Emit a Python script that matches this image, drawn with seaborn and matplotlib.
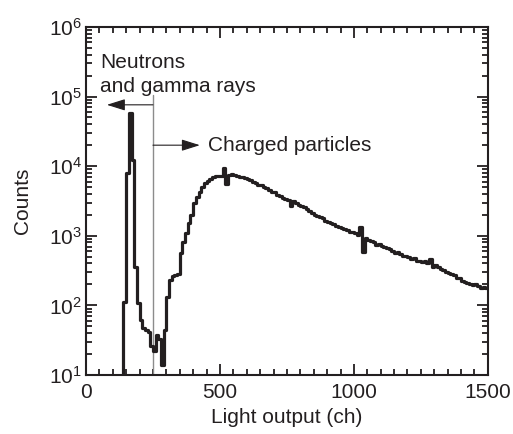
"""
Light-output spectrum: neutron/gamma peak vs charged-particle continuum.
Values read off the reference figure (10-ch bins, log counts).
"""

import numpy as np
import pandas as pd
import matplotlib
matplotlib.use("Agg")
import matplotlib.pyplot as plt
import seaborn as sns
from matplotlib.ticker import LogLocator, MultipleLocator, NullFormatter

sns.set_theme(style="ticks")
plt.rcParams["font.family"] = ["Liberation Sans", "DejaVu Sans"]
plt.rcParams["mathtext.default"] = "regular"

# bin edges (ch): one lead-in bin below the threshold, then 10-ch bins
EDGES = [100] + list(range(140, 1510, 10))
COUNTS = [
    2,                                                          # 100-140 (off scale)
    112, 7900, 57500, 12300, 350, 108, 62, 47, 45, 41,          # 140-240
    26, 22, 37, 33, 14, 44, 132, 232, 265, 275,                 # 240-340
    280, 570, 800, 1090, 1520, 2000, 2930, 3600, 4300, 5020,    # 340-440
    5730, 6200, 6550, 7000, 7100, 7230, 7300, 9400, 5600, 7500, # 440-540
    7600, 7400, 7100, 7000, 7050, 6700, 6500, 6300, 5900, 5700, # 540-640
    5400, 5300, 5000, 4800, 4600, 4300, 4200, 3900, 3700, 3500, # 640-740
    3400, 3300, 2700, 3200, 3000, 2800, 2700, 2600, 2450, 2300, # 740-840
    2150, 2000, 1950, 1850, 1800, 1650, 1550, 1500, 1480, 1400, # 840-940
    1350, 1300, 1270, 1200, 1150, 1120, 1080, 1030, 1330, 590,  # 940-1040
    940, 880, 850, 800, 740, 760, 720, 690, 660, 640,           # 1040-1140
    600, 560, 590, 540, 520, 510, 490, 470, 480, 440,           # 1140-1240
    430, 420, 430, 410, 470, 360, 380, 350, 330, 320,           # 1240-1340
    305, 290, 280, 270, 245, 250, 225, 215, 210, 200,           # 1340-1440
    195, 205, 190, 180, 185, 180,                               # 1440-1500
]

CUT_CH = 250          # neutron/gamma vs charged-particle boundary
ARROW_Y_NG = 7.6e4
ARROW_Y_CP = 2.0e4

df = pd.DataFrame({"ch": EDGES[:-1], "counts": COUNTS})

fig = plt.figure(figsize=(5.13, 4.34), dpi=100)
ax = fig.add_axes([0.1676, 0.136, 0.7834, 0.802])

ink = "#231f20"
sns.histplot(data=df, x="ch", weights="counts", bins=EDGES, element="step",
             fill=False, color=ink, linewidth=2.3, ax=ax)
ax.set_yscale("log")

# boundary line + arrows
ax.plot([CUT_CH, CUT_CH], [10, 1.05e5], color="#8c8c8c", lw=1.0, zorder=1)
arrow_kw = dict(arrowstyle="-|>,head_length=0.7,head_width=0.22", color=ink,
                lw=0.8, mutation_scale=16, shrinkA=0, shrinkB=0)
ax.annotate("", xy=(78, ARROW_Y_NG), xytext=(CUT_CH, ARROW_Y_NG), arrowprops=arrow_kw)
ax.annotate("", xy=(425, ARROW_Y_CP), xytext=(CUT_CH, ARROW_Y_CP), arrowprops=arrow_kw)
ax.text(52, 10**5.41, "Neutrons", fontsize=15, color=ink, va="baseline")
ax.text(52, 10**5.066, "and gamma rays", fontsize=15, color=ink, va="baseline")
ax.text(455, ARROW_Y_CP, "Charged particles", fontsize=15, color=ink, va="center")

ax.set(xlim=(0, 1500), ylim=(10, 1e6))
ax.set_xlabel("Light output (ch)", fontsize=15, color=ink, labelpad=4)
ax.set_ylabel("Counts", fontsize=15, color=ink, labelpad=12)
ax.xaxis.set_major_locator(MultipleLocator(500))
ax.xaxis.set_minor_locator(MultipleLocator(50))
ax.yaxis.set_major_locator(LogLocator(base=10, numticks=10))
ax.yaxis.set_minor_locator(LogLocator(base=10, subs=np.arange(2, 10), numticks=20))
ax.yaxis.set_minor_formatter(NullFormatter())
ax.tick_params(which="both", direction="in", top=True, right=True,
               colors=ink, labelsize=15, width=1.3)
ax.tick_params(which="major", length=8)
ax.tick_params(which="minor", length=4)
ax.tick_params(axis="x", pad=6)
ax.tick_params(axis="y", pad=3)
for s in ax.spines.values():
    s.set_linewidth(1.5)
    s.set_color(ink)

plt.savefig("out.png", dpi=100)
plt.close()
